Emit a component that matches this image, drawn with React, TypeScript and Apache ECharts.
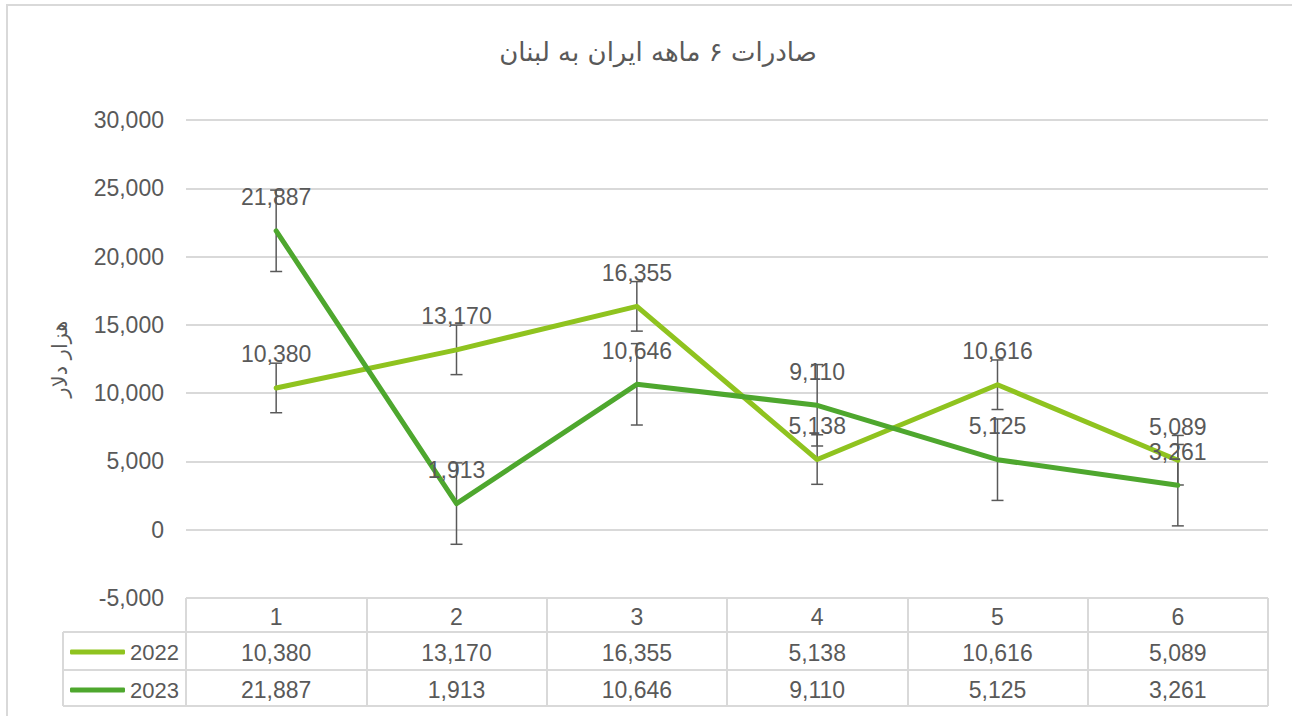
import React, { useEffect, useRef } from "react";
import * as echarts from "echarts";

const categories = ["1", "2", "3", "4", "5", "6"];
const seriesNames = ["2022", "2023"];
const values2022 = [10380, 13170, 16355, 5138, 10616, 5089];
const values2023 = [21887, 1913, 10646, 9110, 5125, 3261];
// error bar half-heights (standard error per series)
const errors2022 = [1814, 1814, 1814, 1814, 1814, 1814];
const errors2023 = [2980, 2980, 2980, 2980, 2980, 2980];
const yTicks = { min: -5000, max: 30000, interval: 5000 };

const TITLE = "صادرات ۶ ماهه ایران به لبنان";
const Y_NAME = "هزار دلار";

const C2022 = "#8FC31F";
const C2023 = "#4EA72E";
const TXT = "#595959";
const GRID = "#D9D9D9";
const NUM_FONT = "Liberation Sans";

const fmt = (v: number) => v.toLocaleString("en-US");

export default function App() {
  const ref = useRef<HTMLDivElement>(null);
  useEffect(() => {
    if (!ref.current) return;
    const chart = echarts.init(ref.current, undefined, { renderer: "svg" });

    const errSeries = (vals: number[], errs: number[], name: string) => ({
      type: "custom",
      name: name + " err",
      xAxisIndex: 0,
      z: 1,
      silent: true,
      data: vals.map((v, i) => [i, v - errs[i], v + errs[i]]),
      renderItem: (params: any, api: any) => {
        const lo = api.coord([api.value(0), api.value(1)]);
        const hi = api.coord([api.value(0), api.value(2)]);
        const w = 6;
        const st = { stroke: TXT, lineWidth: 1.5 };
        return {
          type: "group",
          children: [
            { type: "line", shape: { x1: hi[0], y1: hi[1], x2: lo[0], y2: lo[1] }, style: st },
            { type: "line", shape: { x1: hi[0] - w, y1: hi[1], x2: hi[0] + w, y2: hi[1] }, style: st },
            { type: "line", shape: { x1: lo[0] - w, y1: lo[1], x2: lo[0] + w, y2: lo[1] }, style: st },
          ],
        };
      },
    });

    const lineSeries = (vals: number[], name: string, color: string) => ({
      type: "line",
      name,
      xAxisIndex: 0,
      data: vals,
      z: 3,
      symbol: "circle",
      symbolSize: 0.1,
      showSymbol: true,
      lineStyle: { width: 5, color, cap: "round", join: "round" },
      itemStyle: { color },
      label: {
        show: true,
        position: "top",
        distance: 22,
        formatter: (p: any) => fmt(p.value),
        color: TXT,
        fontFamily: NUM_FONT,
        fontSize: 23,
      },
    });

    const tableRowAxis = (vals: number[], offset: number) => ({
      type: "category",
      gridIndex: 0,
      position: "bottom",
      offset,
      data: vals.map(fmt),
      axisLine: { show: false, onZero: false },
      axisTick: { show: false },
      axisLabel: { margin: 7, color: TXT, fontFamily: NUM_FONT, fontSize: 23, interval: 0 },
    });

    const L = 63, R = 1268, T0 = 598, T1 = 632, T2 = 670, T3 = 706;
    const gl = (x1: number, y1: number, x2: number, y2: number) => ({
      type: "line",
      shape: { x1, y1, x2, y2 },
      style: { stroke: GRID, lineWidth: 2 },
      silent: true,
    });

    chart.setOption({
      animation: false,
      backgroundColor: "#ffffff",
      title: {
        text: TITLE,
        left: 653,
        top: 34,
        textAlign: "center",
        textStyle: { color: TXT, fontFamily: "DejaVu Sans", fontSize: 26, fontWeight: "normal" },
      },
      legend: {
        orient: "vertical",
        left: 70,
        top: 640,
        padding: 0,
        itemWidth: 55,
        itemHeight: 5,
        itemGap: 14,
        icon: "roundRect",
        data: seriesNames,
        textStyle: { color: TXT, fontFamily: NUM_FONT, fontSize: 22, lineHeight: 24 },
        selectedMode: false,
      },
      grid: { left: 186, right: 24, top: 120, bottom: 118, containLabel: false },
      xAxis: [
        {
          type: "category",
          data: categories,
          position: "bottom",
          boundaryGap: true,
          axisLine: { show: false, onZero: false },
          axisTick: { show: true, interval: 0, length: 108, lineStyle: { color: GRID, width: 2 } },
          axisLabel: { margin: 7, color: TXT, fontFamily: NUM_FONT, fontSize: 23, interval: 0 },
        },
        tableRowAxis(values2022, 36),
        tableRowAxis(values2023, 73),
      ],
      yAxis: {
        type: "value",
        min: yTicks.min,
        max: yTicks.max,
        interval: yTicks.interval,
        name: Y_NAME,
        nameLocation: "middle",
        nameRotate: 90,
        nameGap: 116,
        nameTextStyle: { color: TXT, fontFamily: "DejaVu Sans", fontSize: 21 },
        axisLine: { show: false },
        axisTick: { show: false },
        axisLabel: { margin: 22, color: TXT, fontFamily: NUM_FONT, fontSize: 23, formatter: (v: number) => fmt(v) },
        splitLine: { lineStyle: { color: GRID, width: 2 } },
      },
      series: [
        errSeries(values2022, errors2022, seriesNames[0]),
        errSeries(values2023, errors2023, seriesNames[1]),
        lineSeries(values2022, seriesNames[0], C2022),
        lineSeries(values2023, seriesNames[1], C2023),
      ],
      graphic: [
        {
          type: "rect",
          shape: { x: 7, y: 5, width: 1400, height: 800 },
          style: { fill: "none", stroke: GRID, lineWidth: 2 },
          silent: true,
          z: -10,
        },
        gl(L, T1, R, T1),
        gl(L, T2, R, T2),
        gl(L, T3, R, T3),
        gl(L, T1, L, T3),
        gl(R, T0, R, T3),
      ],
    });

    return () => chart.dispose();
  }, []);

  return (
    <div
      ref={ref}
      style={{ position: "absolute", left: 0, top: 0, width: 1292, height: 716 }}
    />
  );
}
